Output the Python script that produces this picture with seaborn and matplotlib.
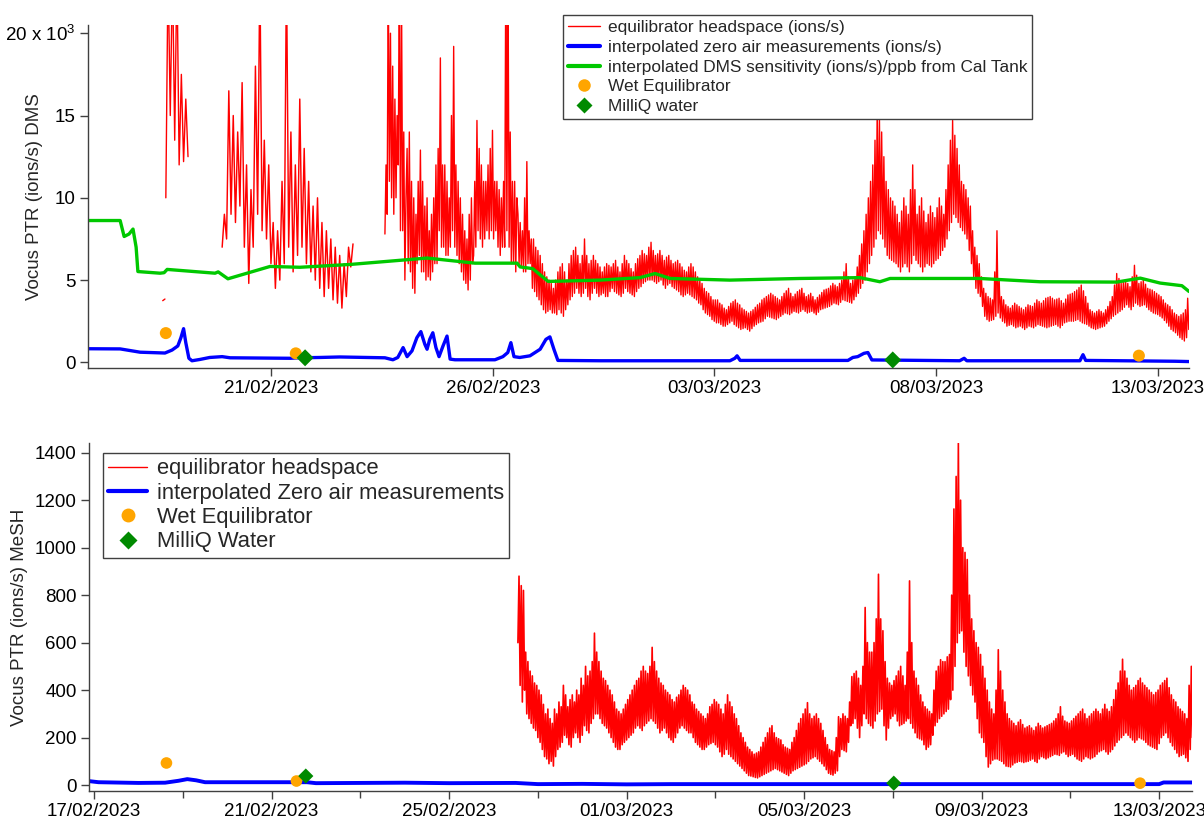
import numpy as np
import pandas as pd
import matplotlib
matplotlib.use("Agg")
import matplotlib.pyplot as plt
from matplotlib.lines import Line2D
import seaborn as sns

T0 = pd.Timestamp("2023-02-17 00:00")
COARSE_STEP = 0.05   # early headspace records (72 min)
FINE_STEP = 0.025    # later headspace records (36 min)

# ---------------- DMS (10^3 ions/s) ----------------
# equilibrator headspace, stored as start offset (days from 17/02) + values
dms_head_a0_start = 1.56
dms_head_a0 = [3.75, 3.85]

dms_head_a_start = 1.63
dms_head_a = [10.0, 24, 15, 24, 13.5, 24, 12, 17.5, 12.2, 16, 12.5]

dms_head_b_start = 2.90
dms_head_b = [
    7.0, 9.0, 7.5, 16.5, 9.0, 15.0, 8.5, 14.0, 9.5, 17.0,
    7.0, 12.0, 4.8, 10.5, 7.0, 18.0, 9.0, 24, 8.0, 13.5,
    7.5, 12.0, 6.0, 8.5, 4.5, 8.0, 5.0, 11.0, 6.0, 24,
    7.0, 14.0, 5.5, 12.0, 6.5, 16.0, 7.0, 13.0, 6.0, 11.0,
    5.5, 9.5, 5.0, 10.0, 4.5, 8.5, 4.0, 8.0, 4.5, 7.5,
    3.8, 7.0, 3.6, 6.5, 3.3, 6.0, 4.0, 7.0, 5.8, 7.2,
]

dms_head_c_start = 6.57
dms_head_c = [
    7.8, 12, 9, 24, 11, 20, 10, 18, 9, 16, 10, 15, 12, 24, 8, 22, 8, 14, 5, 10,
    13, 6, 14, 5.5, 11, 4.5, 10, 4.2, 9, 6, 11, 6.5, 12.9, 5.5, 11, 5.5, 9.5, 5, 10, 5.2,
    8, 5, 9, 5.5, 10, 6, 12, 6, 13, 8, 18.5, 7, 12, 7, 12, 6.5, 11, 6.5, 10, 7,
    15, 8, 19.2, 7, 12, 6.5, 11, 6, 10, 5.5, 9, 5, 8, 4.8, 7.5, 4.4, 9, 5, 10, 6,
    6.5, 11, 7, 14.7, 8, 13, 7.5, 12, 7, 11, 7.5, 11, 8, 12, 7.5, 13, 8, 14.1, 7.5, 11,
    8, 11, 7, 10.5, 6.5, 10, 7, 11, 7, 24, 8, 24, 7, 14, 6, 11, 6, 11, 5.5, 10,
    9, 6, 8.5, 5.8, 8, 5.5, 10, 5.5, 12.2, 6, 8, 6, 7.5, 4.5, 7.5, 4.3, 7, 4, 6.8, 3.8,
    6.5, 3.5, 6, 3.2, 5.5, 3, 5.2, 3.1, 5, 3.2, 4.8, 3, 4.5, 3, 5, 2.9, 5.5, 3.2, 5.8, 3,
    6, 2.8, 5.5, 3.2, 5, 3.5, 6, 3.8, 6.5, 4, 6.8, 4.2, 7, 4.5, 6.5, 4.2, 6, 4, 6.5, 4.2,
    7.5, 4.5, 6.5, 4, 6, 3.8, 6.2, 4.2, 6.5, 4.5, 6.2, 4.2, 6, 4, 5.8, 4.1, 5.5, 4.2, 5.8, 4,
    6, 4, 5.9, 4.3, 5.8, 4.5, 6, 4.3, 6.2, 4.2, 5.8, 4.1, 5.5, 4, 6, 4.2, 6.5, 4.5, 6.2, 4.3,
    6, 4.2, 5.7, 4.1, 5.5, 4, 6, 4.3, 6.3, 4.5, 6.5, 4.6, 6.8, 4.8, 6.6, 4.9, 6.5, 5, 7, 5,
    7.3, 5, 6.8, 4.9, 6.5, 4.8, 6.6, 4.9, 6.8, 5, 6.5, 4.7, 6.2, 4.5, 6.4, 4.7, 6.5, 4.8, 6.2, 4.6,
    6, 4.5, 6.1, 4.4, 6.2, 4.3, 6, 4.1, 5.8, 4, 5.6, 4.1, 5.5, 4.2, 5.8, 4.1, 6, 4, 5.8, 3.9,
    5.5, 3.8, 5.2, 3.6, 5, 3.5, 4.8, 3.2, 4.5, 3, 4.3, 2.9, 4.2, 2.8, 4, 2.6, 3.8, 2.5, 3.8, 2.4,
    3.8, 2.4, 3.6, 2.3, 3.5, 2.2, 3.3, 2.2, 3.2, 2.3, 3.4, 2.4, 3.6, 2.5, 3.7, 2.3, 3.8, 2.2, 3.6, 2.1,
    3.5, 2, 3.3, 2.05, 3.2, 2.1, 3.1, 2, 3.0, 1.9, 3.1, 2.05, 3.2, 2.2, 3.35, 2.3, 3.5, 2.4, 3.6, 2.45,
    3.8, 2.5, 3.9, 2.65, 4.0, 2.8, 4.1, 2.75, 4.2, 2.7, 4.1, 2.65, 4.0, 2.6, 3.9, 2.7, 3.8, 2.8, 4.0, 2.9,
    4.2, 3.0, 4.35, 2.95, 4.5, 2.9, 4.2, 3.0, 4.0, 3.1, 4.15, 3.05, 4.3, 3.0, 4.4, 3.1, 4.5, 3.2, 4.2, 3.1,
    4.0, 3.0, 4.1, 3.05, 4.2, 3.1, 4.0, 3.0, 3.8, 2.9, 3.95, 3.05, 4.1, 3.2, 4.25, 3.25, 4.4, 3.3, 4.45, 3.35,
    4.5, 3.4, 4.65, 3.5, 4.8, 3.6, 4.7, 3.55, 4.6, 3.5, 4.8, 3.65, 5.0, 3.8, 5.5, 3.75, 6.0, 3.7, 5.2, 3.65,
    4.8, 3.6, 5.0, 3.8, 5.2, 4.0, 5.8, 4.2, 6.5, 4.5, 7.2, 4.8, 8.0, 5.0, 9.0, 5.5, 10, 6.0, 11, 6.5,
    12, 7, 13.5, 7.5, 15.5, 8, 14.8, 7.8, 14, 7.5, 12.5, 7, 11, 6.5, 10.5, 6.3, 10, 6.2, 9.8, 6.1,
    9.5, 6, 9, 5.8, 8.5, 5.5, 9.2, 5.8, 10, 6, 9.5, 5.8, 9, 5.5, 10.5, 6, 12, 6.5, 10.5, 6.2,
    9, 6, 9.5, 5.8, 10, 5.5, 9.2, 5.8, 8.5, 6, 9, 5.9, 9.5, 5.8, 9.1, 6, 8.8, 6.2, 9.4, 6.3,
    10, 6.5, 9.5, 6.8, 9, 7, 10.5, 7.5, 12, 8, 13.5, 8.5, 14.7, 9, 13.8, 8.8, 13, 8.5, 12, 8.2,
    11, 8, 10.8, 7.8, 10.5, 7.5, 10, 6.8, 9.5, 6, 8, 5.2, 7, 4.5, 6.5, 4.2, 6, 4, 5.2, 3.4,
    4.5, 2.8, 4.2, 2.6, 4, 2.5, 3.9, 2.55, 3.8, 2.6, 5.5, 2.8, 8, 3, 5, 2.7, 4, 2.5, 3.8, 2.4,
    3.5, 2.2, 3.4, 2.25, 3.3, 2.3, 3.45, 2.2, 3.6, 2.1, 3.5, 2.15, 3.4, 2.2, 3.3, 2.1, 3.2, 2.0, 3.35, 2.1,
    3.5, 2.2, 3.45, 2.15, 3.4, 2.1, 3.6, 2.2, 3.8, 2.3, 3.7, 2.25, 3.6, 2.2, 3.75, 2.15, 3.9, 2.1, 3.95, 2.15,
    4.0, 2.2, 3.9, 2.25, 3.8, 2.3, 3.85, 2.2, 3.9, 2.1, 3.75, 2.25, 3.6, 2.4, 3.85, 2.45, 4.1, 2.5, 4.15, 2.5,
    4.2, 2.5, 4.3, 2.55, 4.4, 2.6, 4.55, 2.5, 4.7, 2.4, 4.35, 2.35, 4.0, 2.3, 3.6, 2.2, 3.2, 2.1, 3.1, 2.05,
    3.0, 2.0, 3.1, 2.05, 3.2, 2.1, 3.1, 2.15, 3.0, 2.2, 3.2, 2.35, 3.4, 2.5, 3.7, 2.65, 4.0, 2.8, 4.7, 2.9,
    5.4, 3.0, 5.1, 3.1, 4.8, 3.2, 4.9, 3.35, 5.0, 3.5, 4.8, 3.35, 4.6, 3.2, 5.2, 3.4, 5.9, 3.6, 5.3, 3.5,
    4.8, 3.4, 4.9, 3.45, 5.0, 3.5, 4.75, 3.35, 4.5, 3.2, 4.45, 3.1, 4.4, 3.0, 4.3, 2.95, 4.2, 2.9, 4.1, 2.8,
    4.0, 2.7, 3.8, 2.55, 3.6, 2.4, 3.5, 2.2, 3.4, 2.0, 3.2, 1.9, 3.0, 1.8, 2.9, 1.65, 2.8, 1.5, 2.9, 1.4,
    3.0, 1.3, 3.2, 1.5, 3.9, 2.0, 2.8,
]

# interpolated zero-air background (days from 17/02, 10^3 ions/s)
dms_zero_days = [
    -0.13, 0.6, 1.05, 1.61, 1.77, 1.9, 1.97, 2.03, 2.08, 2.15, 2.22, 2.4,
    2.62, 2.9, 3.08, 4.43, 4.65, 5.1, 5.55, 6.57, 6.75, 6.86, 6.98, 7.07,
    7.18, 7.29, 7.38, 7.47, 7.52, 7.58, 7.65, 7.72, 7.79, 7.88, 7.97, 8.04,
    8.15, 9.05, 9.23, 9.34, 9.41, 9.48, 9.61, 9.84, 10.07, 10.2, 10.29,
    10.38, 10.47, 11.42, 14.35, 14.46, 14.51, 14.58, 17.01, 17.12, 17.23,
    17.37, 17.46, 17.55, 19.53, 19.63, 19.69, 22.24, 22.31, 22.37, 24.38, 24.72,
]
dms_zero_vals = [
    0.83, 0.82, 0.62, 0.57, 0.75, 1.0, 1.5, 2.05, 1.2, 0.25, 0.1, 0.18,
    0.3, 0.35, 0.28, 0.25, 0.28, 0.3, 0.33, 0.28, 0.16, 0.3, 0.9, 0.35,
    0.7, 1.5, 1.87, 1.1, 0.8, 1.4, 1.8, 0.9, 0.35, 1.0, 1.6, 0.2,
    0.16, 0.16, 0.35, 0.6, 1.2, 0.35, 0.3, 0.4, 0.8, 1.4, 1.55,
    0.8, 0.12, 0.1, 0.1, 0.25, 0.4, 0.12, 0.12, 0.3, 0.35,
    0.55, 0.6, 0.15, 0.1, 0.25, 0.1, 0.1, 0.47, 0.12, 0.07, 0.05,
]

# interpolated DMS sensitivity from the calibration tank
dms_sens_days = [
    -0.13, 0.6, 0.69, 0.8, 0.89, 0.96, 1.0, 1.5, 1.59, 1.66, 2.74, 2.81,
    3.03, 3.98, 4.65, 5.78, 7.52, 8.6, 9.55, 9.62, 9.9, 10.25, 11.42,
    12.32, 12.66, 13.0, 14.35, 15.93, 17.28, 17.73, 17.96, 19.98, 21.34,
    23.07, 23.6, 24.05, 24.54, 24.7,
]
dms_sens_vals = [
    8.62, 8.62, 7.65, 7.8, 8.1, 7.0, 5.52, 5.42, 5.45, 5.65, 5.42, 5.5,
    5.08, 5.83, 5.78, 5.95, 6.34, 6.03, 6.03, 5.8, 5.7, 4.92, 5.0,
    5.15, 5.4, 5.1, 5.0, 5.1, 5.15, 4.9, 5.1, 5.1, 4.9,
    4.88, 5.12, 4.82, 4.66, 4.31,
]

# ---------------- MeSH (ions/s) ----------------
mesh_head_start = 9.55
mesh_head = [
    600, 880, 420, 840, 350, 820, 400, 560, 300, 520, 280, 480, 260, 460, 240, 430, 230, 420, 200, 400,
    180, 380, 150, 340, 120, 300, 110, 320, 90, 280, 100, 260, 80, 320, 120, 300, 150, 350, 160, 330,
    180, 420, 210, 380, 200, 330, 170, 360, 160, 380, 200, 350, 220, 400, 200, 380, 180, 450, 210, 420,
    250, 500, 230, 460, 220, 480, 260, 520, 280, 640, 300, 560, 300, 520, 280, 480, 260, 450, 250, 440,
    240, 420, 220, 400, 200, 380, 180, 350, 160, 320, 150, 310, 150, 300, 170, 320, 180, 340, 190, 360,
    200, 380, 210, 400, 220, 420, 240, 440, 250, 450, 240, 480, 230, 500, 250, 480, 260, 470, 270, 500,
    280, 580, 270, 520, 260, 480, 240, 450, 220, 430, 230, 420, 240, 400, 220, 390, 200, 380, 190, 360,
    180, 350, 200, 370, 220, 380, 240, 400, 250, 420, 240, 410, 230, 400, 220, 380, 220, 350, 200, 340,
    180, 320, 170, 310, 160, 300, 150, 290, 150, 280, 160, 300, 170, 330, 175, 340, 180, 360, 170, 350,
    160, 340, 140, 320, 120, 300, 130, 340, 150, 380, 130, 350, 120, 330, 110, 300, 100, 280, 90, 250,
    80, 220, 70, 200, 60, 180, 50, 160, 40, 150, 38, 140, 35, 130, 32, 135, 30, 140, 35, 160,
    40, 180, 45, 200, 50, 220, 55, 240, 60, 250, 65, 220, 70, 200, 65, 195, 60, 190, 55, 170,
    50, 160, 45, 155, 40, 150, 50, 180, 60, 200, 65, 230, 70, 260, 75, 280, 80, 300, 85, 320,
    90, 347, 100, 300, 110, 280, 115, 290, 120, 300, 110, 280, 100, 260, 90, 230, 80, 200, 65, 170,
    50, 150, 45, 145, 42, 140, 50, 200, 60, 288, 120, 280, 150, 300, 145, 290, 140, 280, 180, 350,
    250, 457, 260, 470, 280, 480, 240, 450, 200, 420, 250, 500, 300, 748, 280, 600, 260, 560, 250, 560,
    240, 600, 270, 700, 300, 888, 310, 700, 320, 650, 250, 520, 190, 450, 240, 430, 280, 420, 290, 440,
    300, 460, 270, 480, 250, 500, 255, 460, 260, 420, 270, 560, 280, 860, 260, 600, 240, 480, 220, 450,
    200, 420, 195, 380, 190, 350, 170, 330, 150, 320, 160, 310, 170, 300, 210, 400, 250, 480, 265, 500,
    280, 528, 290, 520, 300, 520, 310, 540, 320, 550, 360, 800, 400, 1163, 500, 1300, 600, 1440, 640, 1200,
    650, 1000, 560, 980, 500, 950, 460, 800, 420, 700, 380, 650, 350, 600, 280, 580, 220, 550, 200, 500,
    180, 450, 120, 400, 76, 350, 90, 320, 105, 300, 110, 400, 110, 570, 105, 480, 100, 400, 90, 350,
    80, 300, 78, 280, 76, 270, 85, 260, 93, 250, 96, 265, 100, 275, 98, 255, 95, 240, 98, 245,
    100, 250, 105, 240, 110, 230, 100, 245, 95, 260, 110, 250, 120, 240, 115, 245, 110, 250, 115, 255,
    120, 260, 125, 270, 130, 280, 128, 300, 125, 330, 135, 290, 140, 270, 130, 265, 120, 260, 125, 270,
    130, 280, 120, 290, 110, 300, 105, 310, 100, 320, 110, 300, 120, 280, 115, 290, 110, 300, 115, 310,
    120, 320, 130, 310, 140, 300, 145, 320, 150, 340, 140, 320, 130, 310, 140, 330, 150, 360, 165, 400,
    180, 430, 190, 480, 200, 530, 210, 480, 220, 450, 210, 420, 200, 400, 190, 410, 180, 420, 190, 440,
    200, 450, 195, 430, 190, 420, 180, 410, 170, 400, 165, 390, 160, 380, 155, 390, 150, 400, 175, 420,
    200, 430, 210, 440, 220, 450, 200, 410, 180, 380, 165, 360, 150, 350, 135, 330, 120, 320, 125, 310,
    130, 300, 115, 280, 100, 420, 150, 500, 200,
]

mesh_zero_days = [-0.13, 0.1, 1.0, 1.6, 1.9, 2.1, 2.3, 2.5, 4.0, 4.8, 5.0,
                  7.0, 8.0, 9.5, 10.0, 11.0, 12.0, 13.0, 20.0, 24.0, 24.1, 24.75]
mesh_zero_vals = [17, 12, 9, 10, 18, 25, 20, 12, 12, 12, 8,
                  10, 8, 9, 4, 5, 3, 4, 4, 4, 11, 11]

# ---------------- discrete checks ----------------
wet_days = [1.63, 4.56, 23.57]
wet_dms = [1.78, 0.55, 0.41]
wet_mesh = [93, 17, 8]
milliq_days = [4.77, 18.02]
milliq_dms = [0.28, 0.15]
milliq_mesh = [38, 8]

top_xticks = ["2023-02-21", "2023-02-26", "2023-03-03", "2023-03-08", "2023-03-13"]
bottom_xticks = ["2023-02-17", "2023-02-21", "2023-02-25", "2023-03-01",
                 "2023-03-05", "2023-03-09", "2023-03-13"]
bottom_xminor = ["2023-02-19", "2023-02-23", "2023-02-27", "2023-03-03",
                 "2023-03-07", "2023-03-11"]
top_yticks = [0, 5, 10, 15, 20]
top_yticklabels = ["0", "5", "10", "15", "20 x 10$^{3}$"]
bottom_yticks = [0, 200, 400, 600, 800, 1000, 1200, 1400]

RED = "#ff0000"
BLUE = "#0000ff"
GREEN = "#00c800"
ORANGE = "#ffa500"
DGREEN = "#008a00"


def day_to_time(days):
    return T0 + pd.to_timedelta(np.asarray(days, dtype=float), unit="D")


def record_times(start, n, step):
    return day_to_time(start + step * np.arange(n))


sns.set_theme(style="ticks")
plt.rcParams["font.family"] = ["Liberation Sans", "DejaVu Sans"]
plt.rcParams["mathtext.fontset"] = "custom"
plt.rcParams["mathtext.rm"] = "Liberation Sans"
plt.rcParams["mathtext.it"] = "Liberation Sans"
plt.rcParams["mathtext.default"] = "regular"

fig = plt.figure(figsize=(12.04, 8.23), dpi=100)
ax1 = fig.add_axes([88 / 1204, 1 - 368 / 823, (1189 - 88) / 1204, (368 - 25) / 823])
ax2 = fig.add_axes([89 / 1204, 1 - 791 / 823, (1192 - 89) / 1204, (791 - 443) / 823])

# ---- DMS panel ----
for start, vals, step, width in [(dms_head_a0_start, dms_head_a0, COARSE_STEP, 1.0),
                                 (dms_head_a_start, dms_head_a, COARSE_STEP, 1.0),
                                 (dms_head_b_start, dms_head_b, COARSE_STEP, 1.05),
                                 (dms_head_c_start, dms_head_c, FINE_STEP, 1.0)]:
    sns.lineplot(x=record_times(start, len(vals), step), y=vals, ax=ax1, color=RED,
                 lw=width, estimator=None, legend=False)
sns.lineplot(x=day_to_time(dms_zero_days), y=dms_zero_vals, ax=ax1, color=BLUE,
             lw=2.4, estimator=None, legend=False)
sns.lineplot(x=day_to_time(dms_sens_days), y=dms_sens_vals, ax=ax1, color=GREEN,
             lw=2.4, estimator=None, legend=False)
sns.scatterplot(x=day_to_time(wet_days), y=wet_dms, ax=ax1, color=ORANGE, s=75,
                marker="o", edgecolor="none", legend=False, zorder=5)
sns.scatterplot(x=day_to_time(milliq_days), y=milliq_dms, ax=ax1, color=DGREEN, s=75,
                marker="D", edgecolor="none", legend=False, zorder=5)

ax1.set_xlim(day_to_time([-0.125])[0], day_to_time([24.70])[0])
ax1.set_ylim(-0.34, 20.5)
ax1.set_yticks(top_yticks)
ax1.set_yticklabels(top_yticklabels)
ax1.set_xticks(pd.to_datetime(top_xticks))
ax1.set_xticklabels(pd.to_datetime(top_xticks).strftime("%d/%m/%Y"))
ax1.set_ylabel("Vocus PTR (ions/s) DMS", fontsize=13.5)
ax1.yaxis.set_label_coords(-0.041, 0.5)
ax1.set_xlabel("")

# ---- MeSH panel ----
sns.lineplot(x=record_times(mesh_head_start, len(mesh_head), FINE_STEP), y=mesh_head,
             ax=ax2, color=RED, lw=1.2, estimator=None, legend=False)
sns.lineplot(x=day_to_time(mesh_zero_days), y=mesh_zero_vals, ax=ax2, color=BLUE,
             lw=2.8, estimator=None, legend=False)
sns.scatterplot(x=day_to_time(wet_days), y=wet_mesh, ax=ax2, color=ORANGE, s=70,
                marker="o", edgecolor="none", legend=False, zorder=5)
sns.scatterplot(x=day_to_time(milliq_days), y=milliq_mesh, ax=ax2, color=DGREEN, s=60,
                marker="D", edgecolor="none", legend=False, zorder=5)

ax2.set_xlim(day_to_time([-0.115])[0], day_to_time([24.74])[0])
ax2.set_ylim(-25, 1441)
ax2.set_yticks(bottom_yticks)
ax2.set_xticks(pd.to_datetime(bottom_xticks))
ax2.set_xticklabels(pd.to_datetime(bottom_xticks).strftime("%d/%m/%Y"))
ax2.set_xticks(pd.to_datetime(bottom_xminor), minor=True)
ax2.set_ylabel("Vocus PTR (ions/s) MeSH", fontsize=13.5)
ax2.yaxis.set_label_coords(-0.055, 0.5)
ax2.set_xlabel("")

for ax in (ax1, ax2):
    for side in ("top", "right"):
        ax.spines[side].set_visible(False)
    for side in ("left", "bottom"):
        ax.spines[side].set_color("#404040")
        ax.spines[side].set_linewidth(1.0)
    ax.tick_params(axis="both", which="major", direction="out", length=6, width=1,
                   color="#404040", labelsize=13.5, labelcolor="black", pad=3)
    ax.tick_params(axis="x", which="minor", direction="out", length=5, width=1,
                   color="#404040")
    ax.tick_params(axis="y", which="minor", left=False)
    ax.grid(False)

# ---- legends ----
top_handles = [
    Line2D([], [], color=RED, lw=1.0),
    Line2D([], [], color=BLUE, lw=3.0),
    Line2D([], [], color=GREEN, lw=3.0),
    Line2D([], [], color=ORANGE, marker="o", ls="none", ms=9, mec="none"),
    Line2D([], [], color=DGREEN, marker="D", ls="none", ms=8, mec="none"),
]
top_labels = [
    "equilibrator headspace (ions/s)",
    "interpolated zero air measurements (ions/s)",
    "interpolated DMS sensitivity (ions/s)/ppb from Cal Tank",
    "Wet Equilibrator",
    "MilliQ water",
]
leg1 = ax1.legend(top_handles, top_labels, loc="upper left",
                  bbox_to_anchor=(563 / 1204, 1 - 15 / 823), bbox_transform=fig.transFigure,
                  fontsize=12.4, frameon=True, fancybox=False, borderpad=0.3,
                  labelspacing=0.27, handlelength=1.85, handletextpad=0.45,
                  borderaxespad=0)
leg1.get_frame().set_edgecolor("#404040")
leg1.get_frame().set_linewidth(1.0)
leg1.get_frame().set_alpha(1)

bottom_handles = [
    Line2D([], [], color=RED, lw=1.0),
    Line2D([], [], color=BLUE, lw=3.0),
    Line2D([], [], color=ORANGE, marker="o", ls="none", ms=10, mec="none"),
    Line2D([], [], color=DGREEN, marker="D", ls="none", ms=9, mec="none"),
]
bottom_labels = [
    "equilibrator headspace",
    "interpolated Zero air measurements",
    "Wet Equilibrator",
    "MilliQ Water",
]
leg2 = ax2.legend(bottom_handles, bottom_labels, loc="upper left",
                  bbox_to_anchor=(103 / 1204, 1 - 453 / 823), bbox_transform=fig.transFigure,
                  fontsize=15.8, frameon=True, fancybox=False, borderpad=0.25,
                  labelspacing=0.15, handlelength=1.75, handletextpad=0.45,
                  borderaxespad=0)
leg2.get_frame().set_edgecolor("#404040")
leg2.get_frame().set_linewidth(1.0)
leg2.get_frame().set_alpha(1)

fig.savefig("out.png", dpi=100)
